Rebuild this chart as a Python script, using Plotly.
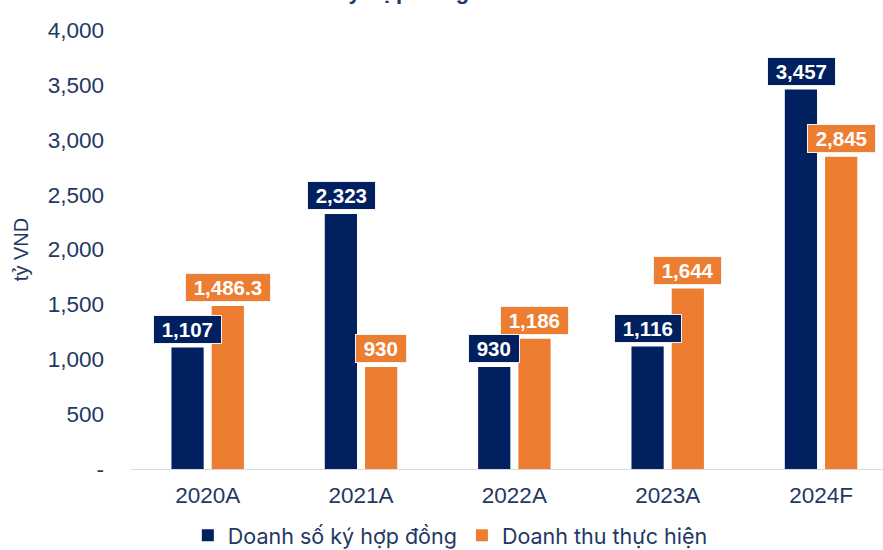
import plotly.graph_objects as go

categories = ["2020A", "2021A", "2022A", "2023A", "2024F"]
contract_sales = [1107, 2323, 930, 1116, 3457]
revenue = [1486.3, 930, 1186, 1644, 2845]
series_names = ["Doanh số ký hợp đồng", "Doanh thu thực hiện"]
y_tickvals = [0, 500, 1000, 1500, 2000, 2500, 3000, 3500, 4000]
y_ticktext = ["-", "500", "1,000", "1,500", "2,000", "2,500", "3,000", "3,500", "4,000"]
title_text = "Doanh số ký hợp đồng"
y_title = "tỷ VND"

NAVY = "#002060"
ORANGE = "#ED7D31"
TXT = "#1F3864"


def fmt(v):
    if float(v).is_integer():
        return f"{int(v):,}"
    return f"{v:,.1f}"


fig = go.Figure()
fig.add_trace(go.Bar(x=categories, y=contract_sales, name=series_names[0],
                     marker=dict(color=NAVY, line=dict(width=0))))
fig.add_trace(go.Bar(x=categories, y=revenue, name=series_names[1],
                     marker=dict(color=ORANGE, line=dict(width=0))))

annotations = []
for vals, col, shift in [(contract_sales, NAVY, -20), (revenue, ORANGE, 20)]:
    for i, v in enumerate(vals):
        annotations.append(dict(
            x=i, y=v, xref="x", yref="y", xshift=shift, yshift=4,
            yanchor="bottom", xanchor="center", showarrow=False,
            text="\u00a0" + fmt(v) + "\u00a0",
            font=dict(family="Liberation Sans, Arial", size=20.5, color="white", weight="bold"),
            bgcolor=col, bordercolor="#F2F2F2", borderwidth=1, borderpad=2,
        ))

annotations.append(dict(
    x=0.29, y=1, xref="paper", yref="paper", xanchor="center", yanchor="bottom",
    yshift=24, showarrow=False, text="<b>" + title_text + "</b>",
    font=dict(family="Liberation Sans, Arial", size=22, color=TXT),
))

fig.update_layout(
    width=883, height=550,
    margin=dict(l=131, r=0, t=30, b=81, autoexpand=False),
    paper_bgcolor="white", plot_bgcolor="white",
    barmode="group", bargap=0.475, bargroupgap=0.2,
    annotations=annotations,
    showlegend=True,
    legend=dict(orientation="h", xref="container", yref="container",
                x=0.51, xanchor="center", y=0.027, yanchor="middle",
                font=dict(family="Inter", size=21.5, color=TXT), traceorder="normal",
                itemwidth=30),
    xaxis=dict(range=[-0.5, 4.404], showgrid=False, zeroline=False, showline=True,
               linecolor="#D9D9D9", linewidth=1, ticks="", automargin=False,
               tickfont=dict(family="Liberation Sans, Arial", size=22.5, color=TXT),
               ticklabelstandoff=6),
    yaxis=dict(range=[0, 4000], tickvals=y_tickvals, ticktext=y_ticktext,
               showgrid=False, zeroline=False, showline=False, ticks="", automargin=False,
               tickfont=dict(family="Liberation Sans, Arial", size=22.5, color=TXT),
               ticklabelstandoff=26,
               title=dict(text=y_title, standoff=13,
                          font=dict(family="Liberation Sans, Arial", size=20, color=TXT))),
)

fig.write_html("out.html")
